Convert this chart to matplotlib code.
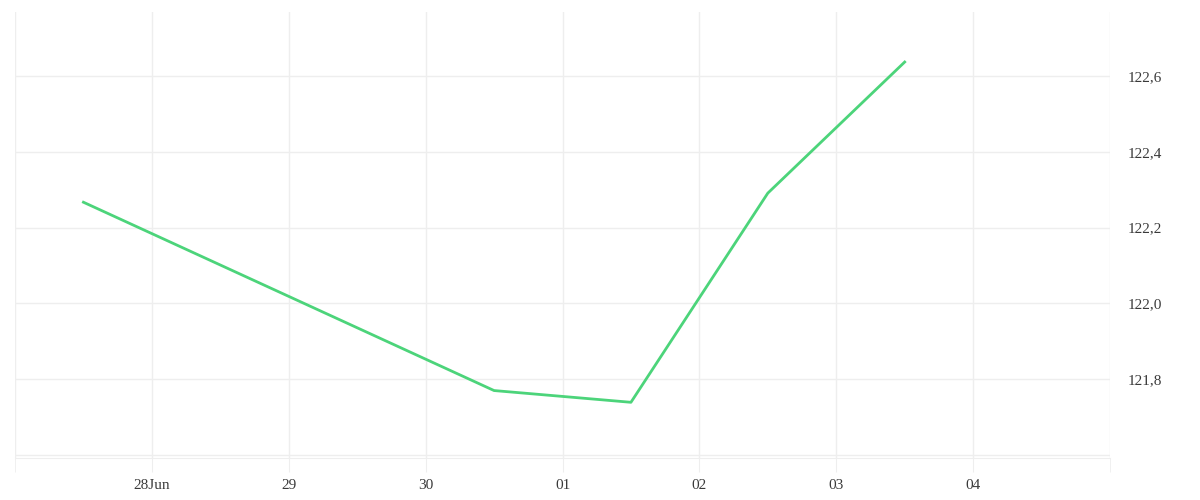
import matplotlib
matplotlib.use('Agg')
import matplotlib.pyplot as plt
from matplotlib.ticker import FuncFormatter
import numpy as np

# data (noon of each trading day)
dates = np.array(['2020-06-27T12:00', '2020-06-30T12:00', '2020-07-01T12:00',
                  '2020-07-02T12:00', '2020-07-03T12:00'], dtype='datetime64[m]')
values = [122.267, 121.77, 121.739, 122.291, 122.637]

tick_days = np.array(['2020-06-28', '2020-06-29', '2020-06-30', '2020-07-01',
                      '2020-07-02', '2020-07-03', '2020-07-04'], dtype='datetime64[D]')
tick_labels = ['28Jun', '29', '30', '01', '02', '03', '04']
y_ticks = [121.6, 121.8, 122.0, 122.2, 122.4, 122.6]

grid_c = '#eeeeee'
plt.rcParams['font.family'] = ['Liberation Serif', 'DejaVu Serif']

fig = plt.figure(figsize=(12, 5), dpi=100)
ax = fig.add_axes([15/1200, 42/500, 1095/1200, 446/500])

ax.plot(dates.astype('datetime64[ms]').astype(object), values, color='#4cd47a', lw=2)

ax.set_xlim(np.datetime64('2020-06-27').astype(object), np.datetime64('2020-07-05').astype(object))
ax.set_ylim(121.592, 122.769)

# vertical grid at each day, including the edges
all_days = np.arange(np.datetime64('2020-06-27'), np.datetime64('2020-07-06'))
ax.set_xticks([d.astype(object) for d in all_days], minor=True)
ax.set_xticks([d.astype(object) for d in tick_days])
ax.set_xticklabels(tick_labels)
ax.grid(which='both', axis='x', color=grid_c, lw=1)
ax.tick_params(axis='x', which='both', length=10, color=grid_c, labelsize=11,
               labelcolor='#3a3a3a', pad=5)

ax.yaxis.tick_right()
ax.set_yticks(y_ticks)
ax.yaxis.set_major_formatter(FuncFormatter(lambda v, p: '' if v < 121.7 else f'{v:.1f}'.replace('.', ',')))
ax.tick_params(axis='y', length=0, labelsize=11, labelcolor='#3a3a3a', pad=13)
ax.grid(which='major', axis='y', color=grid_c, lw=1)

for s in ['top', 'left', 'right']:
    ax.spines[s].set_visible(False)
ax.spines['bottom'].set_color(grid_c)
ax.set_axisbelow(True)

fig.savefig('out.png', dpi=100, facecolor='white')
